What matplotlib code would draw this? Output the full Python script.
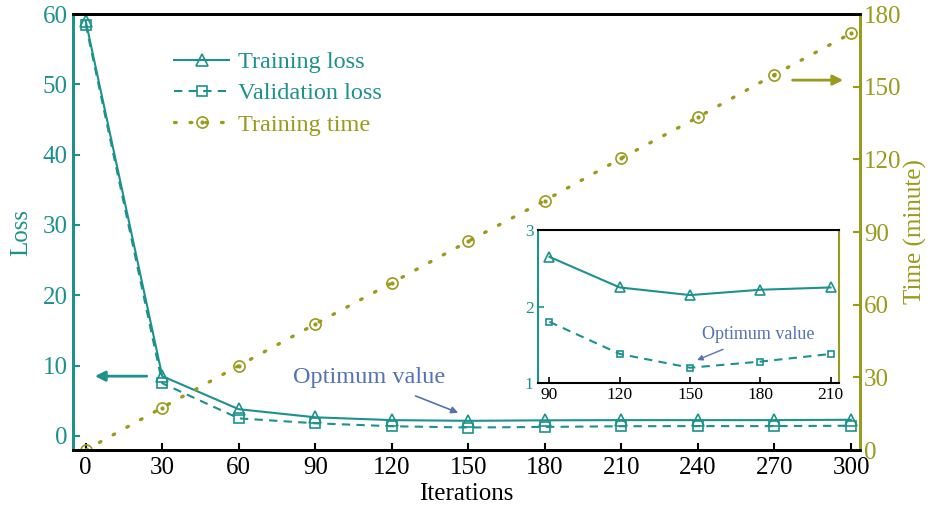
import numpy as np
import matplotlib as mpl
import matplotlib.pyplot as plt
from matplotlib.legend_handler import HandlerTuple

mpl.rc('font', family='Liberation Serif', size=18)

teal = '#1d918c'
olive = '#9a9a1c'
note = '#5572b4'

iterations = [0, 30, 60, 90, 120, 150, 180, 210, 240, 270, 300]
train_loss = [59.0, 8.5, 3.8, 2.65, 2.25, 2.15, 2.22, 2.25, 2.25, 2.25, 2.3]
val_loss = [58.5, 7.5, 2.5, 1.8, 1.38, 1.2, 1.28, 1.38, 1.4, 1.4, 1.45]
train_time = [0, 17.5, 34.8, 52.0, 69.0, 86.2, 103.0, 120.5, 137.4, 155.0, 172.0]

inset_iters = iterations[3:8]
inset_train = train_loss[3:8]
inset_val = val_loss[3:8]

fig = plt.figure(figsize=(9.32, 5.13), dpi=100)
ax = fig.add_axes([0.0783, 0.1228, 0.8444, 0.8499])
ax2 = ax.twinx()

l1, = ax.plot(iterations, train_loss, '-', color=teal, lw=1.5, marker='^',
              ms=8, mfc='none', mew=1.2, label='Training loss')
l2, = ax.plot(iterations, val_loss, '--', color=teal, lw=1.5, marker='s',
              ms=7, mfc='none', mew=1.2, label='Validation loss',
              dashes=(4, 3))
l3, = ax2.plot(iterations, train_time, color=olive, lw=2.4, marker='o',
               ms=8, mfc='none', mew=1.2, label='Training time',
               dashes=(0.5, 4.2), dash_capstyle='round')
l3dot, = ax2.plot(iterations, train_time, ls='none', color=olive,
                  marker='o', ms=2)

ax.set_xlim(-5, 303.5)
ax.set_ylim(-2, 60)
ax2.set_ylim(0, 180)
ax.set_xticks(iterations)
ax.set_yticks(np.arange(0, 61, 10))
ax2.set_yticks(np.arange(0, 181, 30))

ax.tick_params(axis='x', direction='in', length=5, width=1.5, colors='black',
               pad=5)
ax.tick_params(axis='y', direction='in', length=5, width=1.5, colors=teal,
               pad=4)
ax2.tick_params(axis='y', direction='in', length=5, width=1.5, colors=olive,
                pad=3)

for a in (ax, ax2):
    a.spines['left'].set_color(teal)
    a.spines['right'].set_color(olive)
    for s in a.spines.values():
        s.set_linewidth(2)

ax.set_xlabel('Iterations', labelpad=3)
ax.set_ylabel('Loss', color=teal)
ax.yaxis.set_label_coords(-0.052, 0.5)
ax2.set_ylabel('Time (minute)', color=olive)
ax2.yaxis.set_label_coords(1.056, 0.5)

# direction arrows pointing to each y axis
ax.annotate('', xy=(2.5, 8.5), xytext=(25, 8.5),
            arrowprops=dict(arrowstyle='-|>', color=teal, lw=2,
                            mutation_scale=15))
ax2.annotate('', xy=(298, 152.7), xytext=(276, 152.7),
             arrowprops=dict(arrowstyle='-|>', color=olive, lw=2,
                             mutation_scale=15))

ax.annotate('Optimum value', xy=(146, 3.3), xytext=(111, 8.3),
            ha='center', va='center', color=note, fontsize=17.5,
            arrowprops=dict(arrowstyle='-|>', color=note, lw=1.2,
                            mutation_scale=10, shrinkA=10, shrinkB=0))

ax.legend([l1, l2, (l3, l3dot)],
          ['Training loss', 'Validation loss', 'Training time'],
          handler_map={tuple: HandlerTuple(ndivide=1, pad=0)},
          loc='upper left', bbox_to_anchor=(0.1, 0.965), frameon=False,
          handlelength=2.3, handletextpad=0.35, labelspacing=0.38,
          labelcolor=[teal, teal, olive], fontsize=17.5)

# zoomed view of the plateau
ins = fig.add_axes([0.577, 0.2534, 0.323, 0.298])
ins.plot(inset_iters, inset_train, '-', color=teal, lw=1.5, marker='^',
         ms=7, mfc='none', mew=1.2)
ins.plot(inset_iters, inset_val, '--', color=teal, lw=1.5, marker='s',
         ms=5, mfc='none', mew=1.2, dashes=(4, 3))
ins.set_xlim(85, 213.5)
ins.set_ylim(1, 3)
ins.set_xticks(inset_iters)
ins.set_yticks([1, 2, 3])
ins.tick_params(axis='x', direction='in', length=4, width=1.2,
                labelsize=12.5, pad=3)
ins.tick_params(axis='y', direction='in', length=4, width=1.2,
                labelsize=12.5, colors=teal, pad=3)
ins.spines['left'].set_color(teal)
ins.spines['right'].set_color(olive)
for s in ins.spines.values():
    s.set_linewidth(1.5)
ins.annotate('Optimum value', xy=(153, 1.3), xytext=(179, 1.63),
             ha='center', va='center', color=note, fontsize=13,
             arrowprops=dict(arrowstyle='-|>', color=note, lw=1,
                             mutation_scale=8, shrinkA=6, shrinkB=0))

fig.savefig('out.png', dpi=100)
